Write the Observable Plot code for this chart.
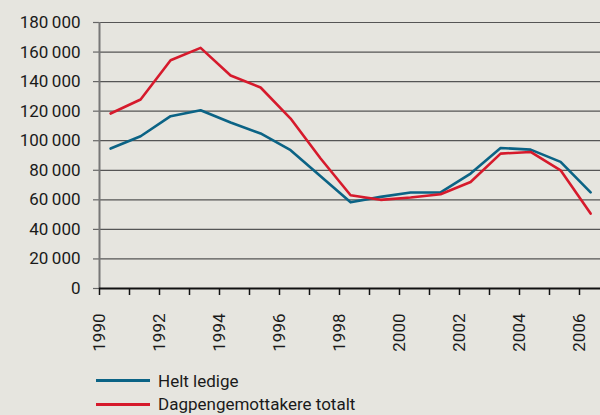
<!DOCTYPE html>
<html><head><meta charset="utf-8">
<script src="https://cdn.jsdelivr.net/npm/d3@7"></script>
<script src="https://cdn.jsdelivr.net/npm/@observablehq/plot@0.6"></script>
<style>
html,body{margin:0;padding:0;background:#e6e5df;font-family:Roboto,sans-serif;color:#1a1a1a;}
#chart svg{display:block;}
.legend{padding-top:9px;}
.row{display:flex;align-items:center;height:23.6px;font-size:17px;}
.sw{width:54px;height:3px;margin-left:96px;margin-right:8px;}
</style></head><body>
<div id="chart"></div>
<div class="legend" id="legend"></div>
<script>
const years = [1990,1991,1992,1993,1994,1995,1996,1997,1998,1999,2000,2001,2002,2003,2004,2005,2006];
const heltLedige = [94700,103000,116600,120600,112300,104900,93600,76000,58300,62000,65000,65000,77800,95100,94000,85700,65000];
const dagpengemottakere = [118400,127900,154500,162800,144100,136000,115000,88000,63100,60000,61600,63800,72100,91300,92400,80000,50700];
const seriesNames = ["Helt ledige","Dagpengemottakere totalt"];
const seriesColors = ["#0b6385","#d61a2c"];
const yTicks = [0,20000,40000,60000,80000,100000,120000,140000,160000,180000];
const xTicks = [1990,1991,1992,1993,1994,1995,1996,1997,1998,1999,2000,2001,2002,2003,2004,2005,2006];
const xLabels = [1990,1992,1994,1996,1998,2000,2002,2004,2006];
const midYear = 0.37;

const rows = [];
years.forEach((y,i)=>{
  rows.push({year:y, value:heltLedige[i], series:seriesNames[0]});
  rows.push({year:y, value:dagpengemottakere[i], series:seriesNames[1]});
});
const fmt = d => d3.format(",")(d).replace(/,/g,"\u2009");

const chart = Plot.plot({
  width:600, height:360,
  marginLeft:99, marginRight:0, marginTop:22, marginBottom:72,
  style:{background:"transparent", fontFamily:"Roboto, sans-serif", fontSize:"17px", color:"#1a1a1a"},
  x:{domain:[1990,2006.7], axis:null},
  y:{domain:[0,180000], axis:null},
  color:{domain:seriesNames, range:seriesColors},
  marks:[
    Plot.gridY(yTicks,{stroke:"#555", strokeOpacity:1, strokeWidth:1.2}),
    Plot.axisY({ticks:yTicks, tickSize:6, tickPadding:13, tickFormat:fmt, label:null, stroke:"#666", strokeWidth:1.2}),
    Plot.ruleX([1990],{stroke:"#777", strokeWidth:2}),
    Plot.axisX({ticks:xTicks, tickSize:7, tickPadding:18, tickRotate:-90,
      tickFormat:d => xLabels.includes(d) ? String(d) : "", label:null, stroke:"#111", strokeWidth:1.5}),
    Plot.ruleY([0],{stroke:"#111", strokeWidth:2}),
    Plot.line(rows,{x:d=>d.year+midYear, y:"value", z:"series", stroke:"series", strokeWidth:2.6})
  ]
});
document.getElementById("chart").appendChild(chart);

const lg = document.getElementById("legend");
seriesNames.forEach((n,i)=>{
  const r = document.createElement("div"); r.className="row";
  const s = document.createElement("div"); s.className="sw"; s.style.background=seriesColors[i];
  const t = document.createElement("span"); t.textContent=n;
  r.appendChild(s); r.appendChild(t); lg.appendChild(r);
});
</script>
</body></html>
